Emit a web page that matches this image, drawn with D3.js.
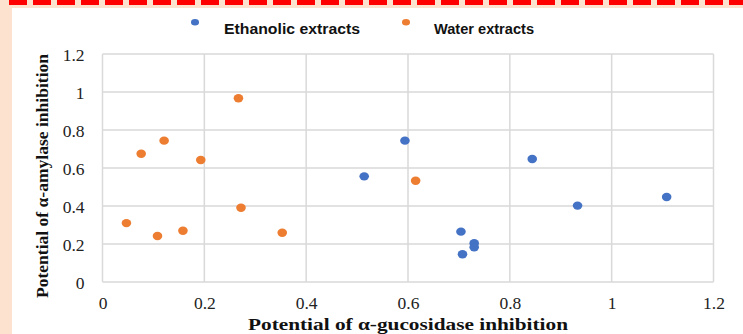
<!DOCTYPE html>
<html>
<head>
<meta charset="utf-8">
<script src="https://cdn.jsdelivr.net/npm/d3@7"></script>
<style>
  body { margin: 0; background: #fde3cf; }
  svg { display: block; }
</style>
</head>
<body>
<div id="chart"></div>
<script>
// values
const seriesNames = ["Ethanolic extracts", "Water extracts"];
const seriesColors = ["#4472c4", "#ed7d31"];

const ethanolX = [0.594, 0.514, 0.844, 0.933, 1.108, 0.704, 0.730, 0.730, 0.707];
const ethanolY = [0.744, 0.556, 0.647, 0.402, 0.447, 0.265, 0.204, 0.183, 0.146];

const waterX = [0.267, 0.121, 0.076, 0.193, 0.272, 0.047, 0.108, 0.158, 0.353, 0.615];
const waterY = [0.967, 0.744, 0.675, 0.642, 0.391, 0.310, 0.242, 0.270, 0.259, 0.533];

const xTicks = [0, 0.2, 0.4, 0.6, 0.8, 1, 1.2];
const yTicks = [0, 0.2, 0.4, 0.6, 0.8, 1, 1.2];

const width = 743, height = 334;

const svg = d3.create("svg")
    .attr("width", width)
    .attr("height", height);

// page background: peach strip + dashed red border on top
svg.append("rect").attr("width", width).attr("height", height).attr("fill", "#fde3cf");
svg.append("rect")
    .attr("x", 12).attr("y", 8)
    .attr("width", width - 12).attr("height", height - 8)
    .attr("fill", "#fff");
svg.append("line")
    .attr("x1", 9).attr("x2", width)
    .attr("y1", 2.5).attr("y2", 2.5)
    .attr("stroke", "#ff0000")
    .attr("stroke-width", 5)
    .attr("stroke-dasharray", "18,6");

const x = d3.scaleLinear().domain([0, 1.2]).range([102.5, 713.5]);
const y = d3.scaleLinear().domain([0, 1.2]).range([282, 54]);

// gridlines
const grid = svg.append("g").attr("stroke", "#d9d9d9").attr("stroke-width", 1.5);
grid.selectAll("line.h")
    .data(yTicks)
    .enter().append("line")
    .attr("x1", x(0)).attr("x2", x(1.2))
    .attr("y1", d => y(d)).attr("y2", d => y(d));
grid.selectAll("line.v")
    .data(xTicks)
    .enter().append("line")
    .attr("y1", y(0)).attr("y2", y(1.2))
    .attr("x1", d => x(d)).attr("x2", d => x(d));

// axes (labels only, lines come from the grid)
const xAxis = svg.append("g")
    .attr("transform", `translate(0,${y(0)})`)
    .call(d3.axisBottom(x).tickValues(xTicks).tickSize(0).tickPadding(15).tickFormat(d3.format("")));
const yAxis = svg.append("g")
    .attr("transform", `translate(${x(0)},0)`)
    .call(d3.axisLeft(y).tickValues(yTicks).tickSize(0).tickPadding(18).tickFormat(d3.format("")));

[xAxis, yAxis].forEach(a => {
    a.select(".domain").remove();
    a.selectAll("text")
        .attr("font-family", "'Liberation Serif', 'Times New Roman', serif")
        .attr("font-size", 17.5)
        .attr("fill", "#222");
});
yAxis.selectAll("text").attr("dy", "0.36em");

// axis titles
svg.append("text")
    .attr("x", 408).attr("y", 330)
    .attr("text-anchor", "middle")
    .attr("font-family", "'Liberation Serif', 'Times New Roman', serif")
    .attr("font-weight", "bold")
    .attr("font-size", 16.5)
    .attr("fill", "#111")
    .attr("textLength", 320)
    .attr("lengthAdjust", "spacingAndGlyphs")
    .text("Potential of α-gucosidase inhibition");

svg.append("text")
    .attr("transform", "translate(48,176) rotate(-90)")
    .attr("text-anchor", "middle")
    .attr("font-family", "'Liberation Serif', 'Times New Roman', serif")
    .attr("font-weight", "bold")
    .attr("font-size", 16)
    .attr("fill", "#111")
    .attr("textLength", 244)
    .attr("lengthAdjust", "spacingAndGlyphs")
    .text("Potential of α-amylase inhibition");

// points
const series = [
    { xs: ethanolX, ys: ethanolY },
    { xs: waterX, ys: waterY }
];
series.forEach((s, i) => {
    svg.append("g")
        .selectAll("ellipse")
        .data(s.xs.map((v, j) => [v, s.ys[j]]))
        .enter().append("ellipse")
        .attr("cx", d => x(d[0]))
        .attr("cy", d => y(d[1]))
        .attr("rx", 4.8)
        .attr("ry", 4.2)
        .attr("fill", seriesColors[i]);
});

// legend
const legendPos = [{ mx: 195, tx: 224, len: 136 }, { mx: 406, tx: 434, len: 100 }];
const legend = svg.append("g")
    .selectAll("g")
    .data(seriesNames)
    .enter().append("g");
legend.append("ellipse")
    .attr("cx", (d, i) => legendPos[i].mx)
    .attr("cy", 22.3)
    .attr("rx", 4)
    .attr("ry", 3.3)
    .attr("fill", (d, i) => seriesColors[i]);
legend.append("text")
    .attr("x", (d, i) => legendPos[i].tx)
    .attr("y", 33.5)
    .attr("font-family", "'Liberation Sans', Arial, sans-serif")
    .attr("font-weight", "bold")
    .attr("font-size", 14.5)
    .attr("fill", "#111")
    .attr("textLength", (d, i) => legendPos[i].len)
    .attr("lengthAdjust", "spacingAndGlyphs")
    .text(d => d);

document.getElementById("chart").appendChild(svg.node());
</script>
</body>
</html>
